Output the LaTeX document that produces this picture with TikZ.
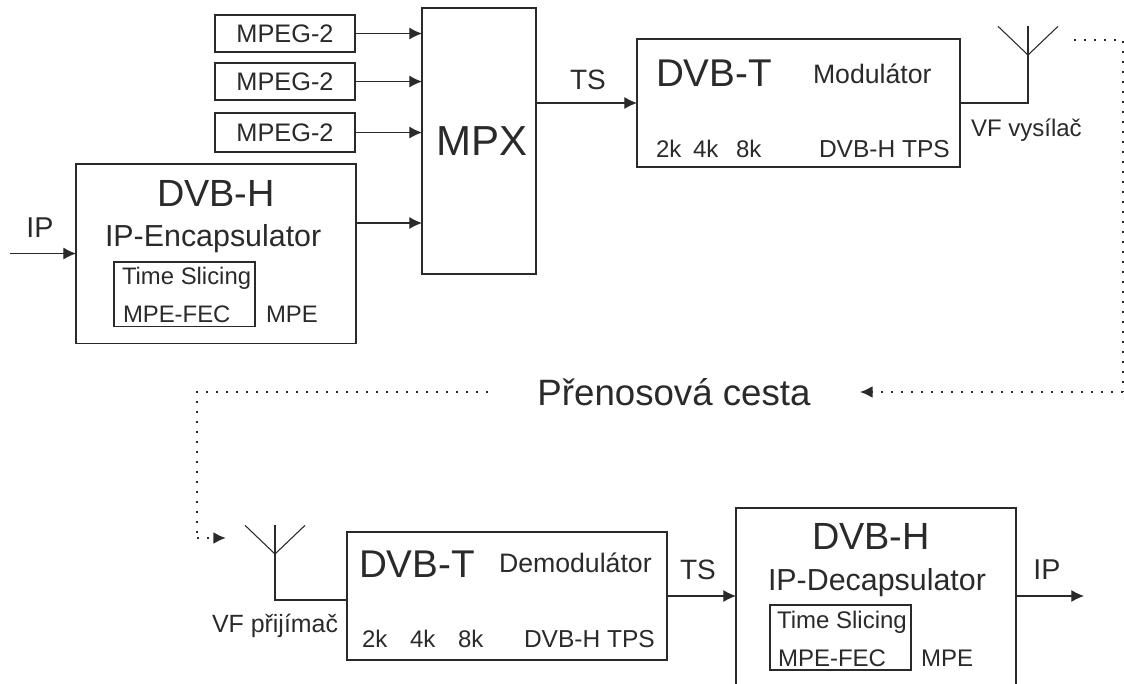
\documentclass[tikz,border=0pt]{standalone}
\usepackage{fontspec}
\setmainfont{Liberation Sans}
\usetikzlibrary{positioning,arrows.meta}
\definecolor{linka}{HTML}{2A2A2A}
\tikzset{
    x=0.75pt,y=-0.75pt,
    blok/.style={draw=linka,line width=0.8pt,inner sep=0pt,outer sep=0pt,minimum width=#1},
    sig/.style={draw=linka,line width=0.8pt,-{Latex[length=9.5pt,width=9pt]}},
    spoj/.style={draw=linka,line width=0.8pt},
    tecky/.style={draw=linka,line width=1.7pt,dash pattern=on 1.7pt off 5.8pt},
    tipdot/.style={tecky,-{Latex[length=9.5pt,width=9pt]}},
    popis/.style={text=linka,inner sep=0pt,outer sep=0pt,anchor=west},
    psize/.style={font=\fontsize{#1}{#1}\selectfont}
}
\begin{document}
\begin{tikzpicture}
    \useasboundingbox (0,0) rectangle (1124,684);
    \node[blok=85.5pt,minimum height=199.5pt] (mpx) at (479,141) {};
    \node[popis,psize=31.5pt,anchor=center] (mpxname) at (482,141) {MPX};
    \node[blok=105pt,minimum height=27.75pt,left=50.25pt of mpx,yshift=80.6pt,psize=19pt,text=linka] (mpeg1) {MPEG-2};
    \node[blok=105pt,minimum height=27.75pt,below=8.25pt of mpeg1,psize=19pt,text=linka] (mpeg2) {MPEG-2};
    \node[blok=105pt,minimum height=29.25pt,below=9.75pt of mpeg2,psize=19pt,text=linka] (mpeg3) {MPEG-2};
    \node[blok=210pt,minimum height=134.25pt,left=49.5pt of mpx,yshift=-84.4pt] (enc) {};
    \node[blok=105.75pt,minimum height=48pt] (encbox) at ([shift={(108.5,130)}]enc.north west) {};
    \node[popis,psize=28.4pt,anchor=center] (encname) at ([shift={(140,29)}]enc.north west) {DVB-H};
    \node[popis,psize=22.8pt] (enctype) at ([shift={(29,75)}]enc.north west) {IP-Encapsulator};
    \node[popis,psize=17.9pt] (encslice) at ([shift={(8,16)}]encbox.north west) {Time Slicing};
    \node[popis,psize=17.9pt] (encfec) at ([shift={(9,52)}]encbox.north west) {MPE-FEC};
    \node[popis,psize=17.9pt] (encmpe) at ([shift={(190,150)}]enc.north west) {MPE};
    \node[blok=242.25pt,minimum height=96pt,right=75.75pt of mpx,yshift=28.5pt] (mod) {};
    \node[popis,psize=29pt] (modname) at ([shift={(19,34)}]mod.north west) {DVB-T};
    \node[popis,psize=20pt] (modtype) at ([shift={(176,35)}]mod.north west) {Modulátor};
    \node[popis,psize=18pt] (mod2k) at ([shift={(19,110)}]mod.north west) {2k};
    \node[popis,psize=18pt] (mod4k) at ([shift={(56,110)}]mod.north west) {4k};
    \node[popis,psize=18pt] (mod8k) at ([shift={(99,110)}]mod.north west) {8k};
    \node[popis,psize=18.4pt] (modtps) at ([shift={(182,110)}]mod.north west) {DVB-H TPS};
    \coordinate[right=51pt of mod.east] (txfoot);
    \coordinate[above=57.5pt of txfoot] (txtop);
    \coordinate[above=36pt of txfoot] (txtip);
    \coordinate (dotstart) at (1074,40);
    \coordinate (dotcorner) at (1123,40);
    \node[popis,psize=18pt] (txname) at (971,130) {VF vysílač};
    \coordinate[left=49.5pt of enc.west] (ipin);
    \node[popis,psize=21.5pt,anchor=center] (ipinname) at (40,228) {IP};
    \node[popis,psize=21pt,anchor=center] (tsname) at (588,80) {TS};
    \node[text=linka,inner xsep=37pt,inner ysep=0pt,outer sep=0pt,psize=27.5pt] (cesta) at (674,392) {Přenosová cesta};
    \node[blok=240pt,minimum height=96pt] (demod) at (507,596) {};
    \node[popis,psize=29pt] (demodname) at ([shift={(12,32)}]demod.north west) {DVB-T};
    \node[popis,psize=20pt] (demodtype) at ([shift={(152,31)}]demod.north west) {Demodulátor};
    \node[popis,psize=18pt] (demod2k) at ([shift={(15,107)}]demod.north west) {2k};
    \node[popis,psize=18pt] (demod4k) at ([shift={(63,107)}]demod.north west) {4k};
    \node[popis,psize=18pt] (demod8k) at ([shift={(111,107)}]demod.north west) {8k};
    \node[popis,psize=18.4pt] (demodtps) at ([shift={(177,107)}]demod.north west) {DVB-H TPS};
    \coordinate[left=54pt of demod.west,yshift=-3pt] (rxfoot);
    \coordinate[above=56pt of rxfoot] (rxtop);
    \coordinate[above=34.5pt of rxfoot] (rxtip);
    \coordinate (rxdot) at (226,538);
    \coordinate (dotturn) at (197,392);
    \node[popis,psize=18.7pt] (rxname) at (212,626) {VF přijímač};
    \node[blok=210pt,minimum height=132pt,draw=none,right=51.75pt of demod] (dec) {};
    \node[blok=105.75pt,minimum height=48.75pt] (decbox) at ([shift={(104.5,129.5)}]dec.north west) {};
    \node[popis,psize=28.4pt,anchor=center] (decname) at ([shift={(135,28)}]dec.north west) {DVB-H};
    \node[popis,psize=22.8pt] (dectype) at ([shift={(32,75)}]dec.north west) {IP-Decapsulator};
    \node[popis,psize=18pt] (decslice) at ([shift={(7,17)}]decbox.north west) {Time Slicing};
    \node[popis,psize=18pt] (decfec) at ([shift={(8,53)}]decbox.north west) {MPE-FEC};
    \node[popis,psize=18pt] (decmpe) at ([shift={(185,150)}]dec.north west) {MPE};
    \coordinate[right=51pt of dec.east] (ipout);
    \node[popis,psize=21.5pt,anchor=center] (ipoutname) at (1047,570) {IP};
    \node[popis,psize=21pt,anchor=center] (tsname2) at (698,570) {TS};
    \draw[sig] (mpeg1) -- (mpeg1 -| mpx.west);
    \draw[sig] (mpeg2) -- (mpeg2 -| mpx.west);
    \draw[sig] (mpeg3) -- (mpeg3 -| mpx.west);
    \draw[sig] ([yshift=22.9pt]enc.east) -- ([yshift=22.9pt]enc.east -| mpx.west);
    \draw[sig] (ipin) -- (enc.west);
    \draw[sig] (mod.west -| mpx.east) -- (mod.west);
    \draw[spoj] (mod.east) -- (txfoot) -- (txtop);
    \draw[spoj] ([shift={(-30,0)}]txtop) -- (txtip) -- ([shift={(30,0)}]txtop);
    \draw[tecky] (dotstart) -- (dotcorner) -- (dotcorner |- cesta.east);
    \draw[tipdot] (dotcorner |- cesta.east) -- (cesta.east);
    \draw[tecky] (cesta.west) -- (dotturn) -- (dotturn |- rxdot);
    \draw[tipdot] (dotturn |- rxdot) -- (rxdot);
    \draw[spoj] ([shift={(-30,0)}]rxtop) -- (rxtip) -- ([shift={(30,0)}]rxtop);
    \draw[spoj] (rxtop) -- (rxfoot) -- (rxfoot -| demod.west);
    \draw[sig] (demod.east) -- (dec.west);
    \draw[spoj] (dec.south west) -- (dec.north west) -- (dec.north east) -- (dec.south east);
    \draw[sig] (dec.east) -- (ipout);
\end{tikzpicture}
\end{document}
